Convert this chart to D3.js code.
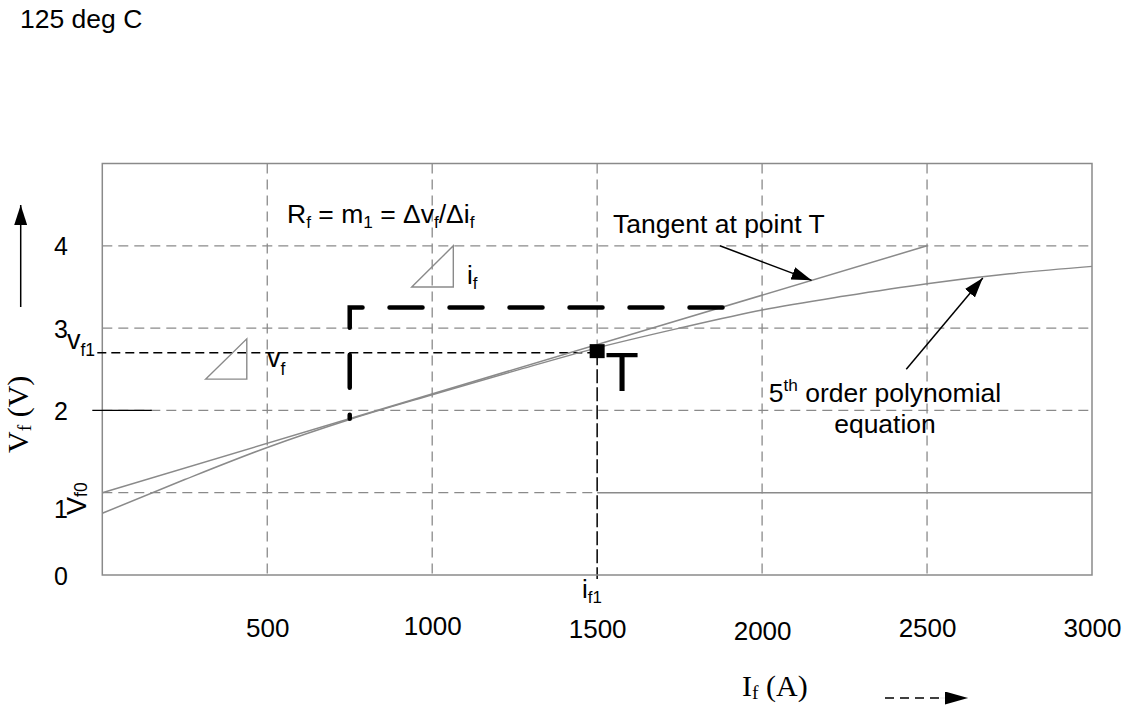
<!DOCTYPE html>
<html>
<head>
<meta charset="utf-8">
<script src="https://cdn.jsdelivr.net/npm/d3@7"></script>
<style>
  body { margin: 0; background: #fff; }
  svg text { font-family: Arial, "Liberation Sans", sans-serif; fill: #000; }
  .serif { font-family: "Times New Roman", "Liberation Serif", serif; }
</style>
</head>
<body>
<svg id="chart" width="1131" height="709"></svg>
<script>
// axis values
const xTicks = [500, 1000, 1500, 2000, 2500, 3000];
const yTicks = [0, 1, 2, 3, 4];
const xGrid = [500, 1000, 1500, 2000, 2500];
const yGrid = [1, 2, 3, 4];

// 5th order polynomial curve (If in A, Vf in V)
const polyI = [0, 250, 500, 750, 1000, 1250, 1500, 1750, 2000, 2250, 2500, 2750, 3000];
const polyV = [0.75, 1.16, 1.55, 1.89, 2.19, 2.48, 2.76, 3.0, 3.22, 3.39, 3.54, 3.66, 3.75];

// tangent line at T
const tangentI = [0, 2500];
const tangentV = [1.0, 4.0];

// point T and reference levels
const pointT = [1500, 2.72];
const vf1 = 2.7;
const vf0 = 1.0;

// thick dashed bracket (Δi, Δv)
const bracketI = [1880, 750, 750];
const bracketV = [3.25, 3.25, 1.9];

// small slope triangles
const triIf = { i: [938, 1064], v: [3.5, 4.0] };
const triVf = { i: [313, 438], v: [2.38, 2.87] };

// callout arrows [fromI, fromV, toI, toV]
const tangentCallout = [1872, 4.0, 2150, 3.58];
const polyCallout = [2437, 2.5, 2669, 3.61];

const svg = d3.select("#chart");
const margin = { left: 102.3, right: 39, top: 163.5, bottom: 134 };
const W = 1131, H = 709;

const x = d3.scaleLinear().domain([0, 3000]).range([margin.left, W - margin.right]);
const y = d3.scaleLinear().domain([0, 5]).range([H - margin.bottom, margin.top]);

const grey = "#8a8a8a";

// arrowhead markers
const defs = svg.append("defs");
function head(id, len, wid) {
  defs.append("marker")
    .attr("id", id)
    .attr("viewBox", `0 0 ${len} ${wid}`)
    .attr("refX", len).attr("refY", wid / 2)
    .attr("markerWidth", len).attr("markerHeight", wid)
    .attr("markerUnits", "userSpaceOnUse")
    .attr("orient", "auto")
    .append("path").attr("d", `M0,0 L${len},${wid / 2} L0,${wid} Z`).attr("fill", "#000");
}
head("head", 20, 13);
head("headBig", 23, 13);

// title
svg.append("text").attr("x", 20).attr("y", 28).style("font-size", "26.5px").text("125 deg C");

// grid
svg.append("g").selectAll("line")
  .data(xGrid.filter(d => d !== pointT[0]))
  .join("line")
  .attr("x1", d => x(d)).attr("x2", d => x(d))
  .attr("y1", y(5)).attr("y2", y(0))
  .attr("stroke", grey).attr("stroke-width", 1.3)
  .attr("stroke-dasharray", "10,6");

// 1500 grid above T grey, below T black
svg.append("line")
  .attr("x1", x(1500)).attr("x2", x(1500))
  .attr("y1", y(5)).attr("y2", y(pointT[1]))
  .attr("stroke", grey).attr("stroke-width", 1.3).attr("stroke-dasharray", "10,6");
svg.append("line")
  .attr("x1", x(1500)).attr("x2", x(1500))
  .attr("y1", y(pointT[1])).attr("y2", y(0) + 4)
  .attr("stroke", "#000").attr("stroke-width", 1.5).attr("stroke-dasharray", "14,4");

svg.append("g").selectAll("line")
  .data(yGrid)
  .join("line")
  .attr("x1", x(0))
  .attr("x2", d => d === vf0 ? x(1500) : x(3000))
  .attr("y1", d => y(d)).attr("y2", d => y(d))
  .attr("stroke", grey).attr("stroke-width", 1.3)
  .attr("stroke-dasharray", "10,6");

// solid Vf0 level to the right of i_f1
svg.append("line")
  .attr("x1", x(1500)).attr("x2", x(3000))
  .attr("y1", y(vf0)).attr("y2", y(vf0))
  .attr("stroke", grey).attr("stroke-width", 1.5);

// frame
svg.append("rect")
  .attr("x", x(0)).attr("y", y(5))
  .attr("width", x(3000) - x(0)).attr("height", y(0) - y(5))
  .attr("fill", "none").attr("stroke", grey).attr("stroke-width", 1.5);

// vf1 dashed level
svg.append("line")
  .attr("x1", x(0) - 5).attr("x2", x(pointT[0]) - 6)
  .attr("y1", y(vf1)).attr("y2", y(vf1))
  .attr("stroke", "#000").attr("stroke-width", 1.4).attr("stroke-dasharray", "9,5");

// short black line at 2 on the left
svg.append("line")
  .attr("x1", x(0) - 10).attr("x2", x(150))
  .attr("y1", y(2)).attr("y2", y(2))
  .attr("stroke", "#000").attr("stroke-width", 1.3);

// curves
svg.append("path")
  .datum(polyI.map((d, k) => [d, polyV[k]]))
  .attr("d", d3.line().x(d => x(d[0])).y(d => y(d[1])).curve(d3.curveMonotoneX))
  .attr("fill", "none").attr("stroke", grey).attr("stroke-width", 1.5);

svg.append("path")
  .datum(tangentI.map((d, k) => [d, tangentV[k]]))
  .attr("d", d3.line().x(d => x(d[0])).y(d => y(d[1])))
  .attr("fill", "none").attr("stroke", grey).attr("stroke-width", 1.5);

// thick dashed bracket
svg.append("path")
  .datum(bracketI.map((d, k) => [d, bracketV[k]]))
  .attr("d", d3.line().x(d => x(d[0])).y(d => y(d[1])))
  .attr("fill", "none").attr("stroke", "#000").attr("stroke-width", 4.5)
  .attr("stroke-linecap", "round").attr("stroke-linejoin", "miter")
  .attr("stroke-dasharray", "33,27");

// triangles
[triIf, triVf].forEach(t => {
  svg.append("path")
    .attr("d", `M${x(t.i[0])},${y(t.v[0])} L${x(t.i[1])},${y(t.v[1])} L${x(t.i[1])},${y(t.v[0])} Z`)
    .attr("fill", "none").attr("stroke", grey).attr("stroke-width", 1.4);
});

// point T
svg.append("rect")
  .attr("x", x(pointT[0]) - 7.5).attr("y", y(pointT[1]) - 7)
  .attr("width", 15).attr("height", 14).attr("fill", "#000");
svg.append("text").attr("x", x(pointT[0]) + 8).attr("y", y(pointT[1]) + 40)
  .style("font-size", "55px").text("T");

// callout arrows
[tangentCallout, polyCallout].forEach(a => {
  svg.append("line")
    .attr("x1", x(a[0])).attr("y1", y(a[1]))
    .attr("x2", x(a[2])).attr("y2", y(a[3]))
    .attr("stroke", "#000").attr("stroke-width", 1.5)
    .attr("marker-end", "url(#head)");
});

// x axis labels
const xAxis = d3.axisBottom(x).tickValues(xTicks).tickSize(0).tickPadding(43).tickFormat(d3.format("d"));
const gx = svg.append("g").attr("transform", `translate(0,${y(0)})`).call(xAxis);
gx.select(".domain").remove();
const xNudge = [0, -2, 1, 3, 0, 0];
gx.selectAll("text")
  .attr("dy", (d, k) => 19 + xNudge[k])
  .style("font-size", "26px").style("font-family", "Arial, 'Liberation Sans', sans-serif");

// y axis labels
const yAxis = d3.axisLeft(y).tickValues(yTicks).tickSize(0).tickPadding(0).tickFormat(d3.format("d"));
const gy = svg.append("g").attr("transform", `translate(61,0)`).call(yAxis);
gy.select(".domain").remove();
gy.selectAll("text")
  .attr("text-anchor", "middle")
  .attr("dy", d => d === 1 ? "0.98em" : "0.36em")
  .style("font-size", "25px").style("font-family", "Arial, 'Liberation Sans', sans-serif");

// helper for text with subscripts: parts = [[text, "sub"|"sup"|undefined], ...]
function rich(g, px, py, size, parts, anchor, drop) {
  const t = g.append("text").attr("x", px).attr("y", py).style("font-size", size + "px");
  if (anchor) t.attr("text-anchor", anchor);
  const subDrop = drop == null ? 0.3 : drop;
  let shift = 0;
  parts.forEach(p => {
    const target = p[1] === "sub" ? subDrop * size : p[1] === "sup" ? -0.4 * size : 0;
    t.append("tspan")
      .attr("dy", target - shift)
      .style("font-size", p[1] ? (0.65 * size) + "px" : null)
      .text(p[0]);
    shift = target;
  });
  return t;
}

// formula
rich(svg, 287, 223, 26.5, [["R"], ["f", "sub"], [" = m"], ["1", "sub"], [" = Δv"], ["f", "sub"], ["/Δi"], ["f", "sub"]], null, 0.2);

// triangle labels
rich(svg, 467, 284, 26, [["i"], ["f", "sub"]], null, 0.2);
rich(svg, 267, 367, 27, [["v"], ["f", "sub"]], null, 0.3);

// vf1 label
rich(svg, 67, 349, 27, [["v"], ["f1", "sub"]], null, 0.25);

// if1 label
rich(svg, 582, 598, 26, [["i"], ["f1", "sub"]], null, 0.2);

// Vf0 label (rotated)
rich(svg.append("g").attr("transform", "translate(86,515) rotate(-90)"), 0, 0, 27, [["V"], ["f0", "sub"]], null, 0.05);

// callout texts
svg.append("text").attr("x", 613).attr("y", 233).style("font-size", "26.5px").text("Tangent at point T");
rich(svg, 885, 402, 26.5, [["5"], ["th", "sup"], [" order polynomial"]], "middle");
svg.append("text").attr("x", 885).attr("y", 433).attr("text-anchor", "middle").style("font-size", "26.5px").text("equation");

// axis titles
const ty = svg.append("g").attr("transform", "translate(28,453) rotate(-90)");
rich(ty, 0, 0, 30, [["V"], ["f", "sub"], [" (V)"]], null, 0.1).attr("class", "serif");
rich(svg, 742, 696, 30, [["I"], ["f", "sub"], [" (A)"]], null, 0.1).attr("class", "serif");

// direction arrows
svg.append("line")
  .attr("x1", 20.7).attr("y1", 307).attr("x2", 20.7).attr("y2", 205)
  .attr("stroke", "#000").attr("stroke-width", 1.5)
  .attr("marker-end", "url(#head)");
svg.append("line")
  .attr("x1", 885).attr("y1", 698).attr("x2", 946).attr("y2", 698)
  .attr("stroke", "#000").attr("stroke-width", 1.5).attr("stroke-dasharray", "9,6");
svg.append("line")
  .attr("x1", 940).attr("y1", 698).attr("x2", 968).attr("y2", 698)
  .attr("stroke", "#000").attr("stroke-width", 0.1)
  .attr("marker-end", "url(#headBig)");
</script>
</body>
</html>
